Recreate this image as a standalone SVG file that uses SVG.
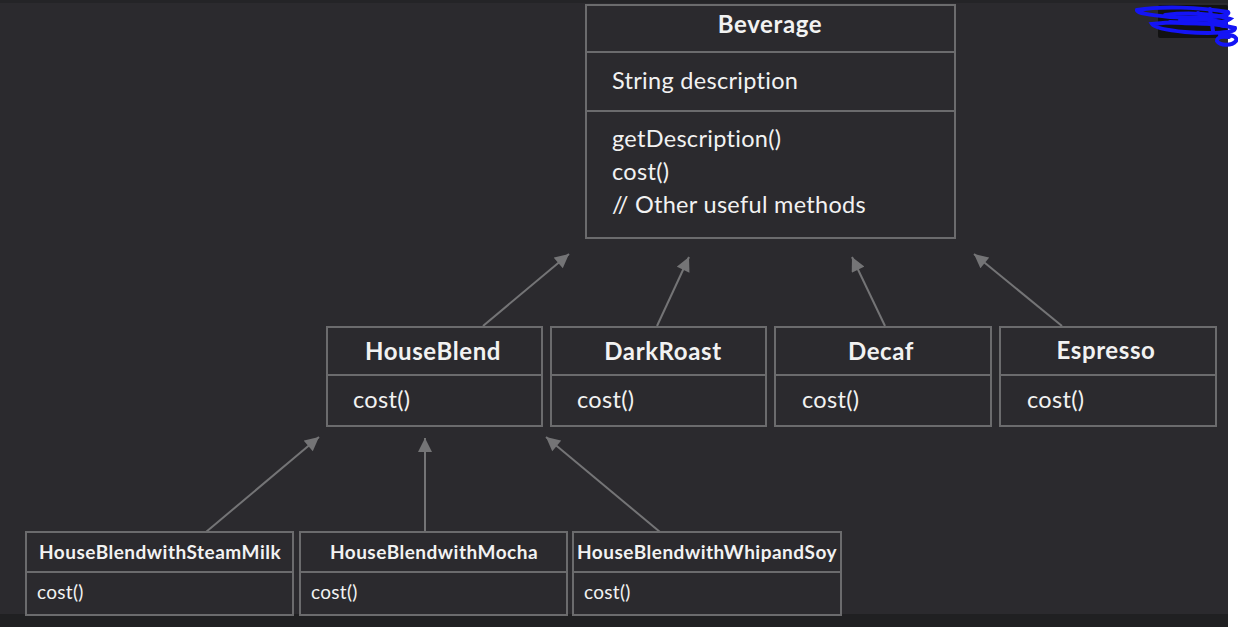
<svg xmlns="http://www.w3.org/2000/svg" width="1238" height="627" viewBox="0 0 1238 627">
<defs>
<style>
.box{fill:none;stroke:#6b6b6d;stroke-width:2}
.div{stroke:#6b6b6d;stroke-width:2}
.t{font-family:Lato,"Open Sans","Liberation Sans",sans-serif;fill:#f2f2f2}
.title{font-weight:bold;font-size:24px;letter-spacing:0.6px;text-anchor:middle}
.mem{font-size:23.5px;letter-spacing:0.3px}
.stitle{font-weight:bold;font-size:19px;letter-spacing:0.5px;text-anchor:middle}
.smem{font-size:19px;letter-spacing:0.3px}
.conn{stroke:#747476;stroke-width:2;fill:none;marker-end:url(#tri)}
.scr{fill:none;stroke:#1414f5;stroke-width:4;stroke-linecap:round}
</style>
<marker id="tri" viewBox="0 0 10 10" refX="10" refY="5" markerWidth="7.5" markerHeight="7" orient="auto" markerUnits="strokeWidth">
<path d="M0,0 L10,5 L0,10 z" fill="#747476"/>
</marker>
</defs>
<rect x="0" y="0" width="1238" height="627" fill="#2b2a2e"/>
<rect x="0" y="614" width="1228" height="13" fill="#202022"/>
<rect x="0" y="0" width="1228" height="3" fill="#242427"/>
<rect x="1228" y="0" width="10" height="627" fill="#ffffff"/>

<g id="scribble">
<rect x="1158" y="5" width="70" height="33" rx="2" fill="#121212"/>
<path class="scr" d="M1137,10 C1160,6 1200,7 1228,12 C1232,17 1200,19 1170,17 C1150,15 1136,13 1137,10 Z"/>
<path class="scr" d="M1165,15 C1190,12 1215,14 1230,19 C1222,25 1190,24 1170,22"/>
<path class="scr" d="M1152,24 C1180,21 1215,23 1235,28 C1237,33 1210,34 1185,32 C1165,30 1154,27 1152,24 Z"/>
<path class="scr" d="M1220,35 C1230,34 1238,36 1236,41 C1232,46 1220,46 1217,41 C1217,37 1222,36 1229,37"/>
<path class="scr" d="M1210,9 L1213,31 M1198,13 C1205,20 1216,24 1224,26 M1180,20 C1200,18 1215,20 1226,23"/>
</g>

<g id="connectors">
<line class="conn" x1="483" y1="326" x2="569" y2="254"/>
<line class="conn" x1="657" y1="326" x2="689" y2="257"/>
<line class="conn" x1="885" y1="326" x2="852" y2="257"/>
<line class="conn" x1="1062" y1="326" x2="974" y2="254"/>
<line class="conn" x1="206" y1="532" x2="319" y2="437"/>
<line class="conn" x1="425" y1="532" x2="425" y2="438"/>
<line class="conn" x1="660" y1="532" x2="546" y2="437"/>
</g>

<g id="Beverage">
<rect class="box" x="586" y="5" width="369" height="233"/>
<line class="div" x1="586" y1="52" x2="955" y2="52"/>
<line class="div" x1="586" y1="111" x2="955" y2="111"/>
<text class="t title" x="770" y="33">Beverage</text>
<text class="t mem" x="612" y="89">String description</text>
<text class="t mem" x="612" y="147">getDescription()</text>
<text class="t mem" x="612" y="180">cost()</text>
<text class="t mem" x="612" y="213">// Other useful methods</text>
</g>

<g id="HouseBlend">
<rect class="box" x="327" y="327" width="215" height="99"/>
<line class="div" x1="327" y1="375" x2="542" y2="375"/>
<text class="t title" x="433" y="360">HouseBlend</text>
<text class="t mem" x="353" y="408">cost()</text>
</g>

<g id="DarkRoast">
<rect class="box" x="551" y="327" width="215" height="99"/>
<line class="div" x1="551" y1="375" x2="766" y2="375"/>
<text class="t title" x="663" y="360">DarkRoast</text>
<text class="t mem" x="577" y="408">cost()</text>
</g>

<g id="Decaf">
<rect class="box" x="775" y="327" width="216" height="99"/>
<line class="div" x1="775" y1="375" x2="991" y2="375"/>
<text class="t title" x="881" y="360">Decaf</text>
<text class="t mem" x="802" y="408">cost()</text>
</g>

<g id="Espresso">
<rect class="box" x="1000" y="327" width="216" height="99"/>
<line class="div" x1="1000" y1="375" x2="1216" y2="375"/>
<text class="t title" x="1106" y="359">Espresso</text>
<text class="t mem" x="1027" y="408">cost()</text>
</g>

<g id="HouseBlendwithSteamMilk">
<rect class="box" x="26" y="532" width="267" height="83"/>
<line class="div" x1="26" y1="572" x2="293" y2="572"/>
<text class="t stitle" x="160" y="559">HouseBlendwithSteamMilk</text>
<text class="t smem" x="37" y="599">cost()</text>
</g>

<g id="HouseBlendwithMocha">
<rect class="box" x="300" y="532" width="267" height="83"/>
<line class="div" x1="300" y1="572" x2="567" y2="572"/>
<text class="t stitle" x="434" y="559">HouseBlendwithMocha</text>
<text class="t smem" x="311" y="599">cost()</text>
</g>

<g id="HouseBlendwithWhipandSoy">
<rect class="box" x="573" y="532" width="268" height="83"/>
<line class="div" x1="573" y1="572" x2="841" y2="572"/>
<text class="t stitle" x="707" y="559">HouseBlendwithWhipandSoy</text>
<text class="t smem" x="584" y="599">cost()</text>
</g>
</svg>
